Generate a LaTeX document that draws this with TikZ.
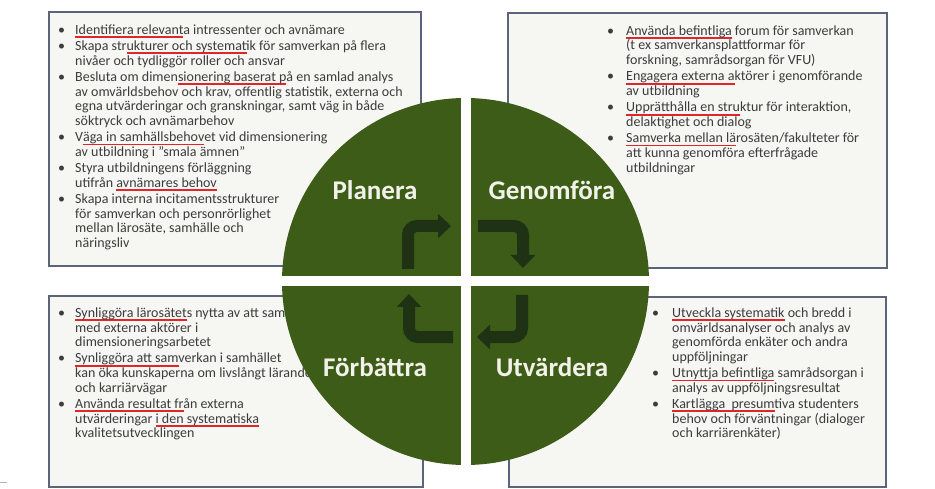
\documentclass[tikz,border=0pt]{standalone}
\usepackage{fontspec}
\setmainfont{Carlito}
\usepackage{array}
\usetikzlibrary{arrows.meta,calc}

\definecolor{leaf}{HTML}{3D5C17}
\definecolor{arrowgreen}{HTML}{1F3314}
\definecolor{frame}{HTML}{5B6478}
\definecolor{panelfill}{HTML}{F6F6F3}
\definecolor{textgray}{HTML}{3C3C3C}
\definecolor{markred}{HTML}{E0262B}
\definecolor{labelwhite}{HTML}{F2F2EA}

% red hand-drawn style underline
\newlength\ulwd
\newcommand\redul[1]{\settowidth\ulwd{#1}\rlap{\textcolor{markred}{\rule[-3.8pt]{\ulwd}{1.8pt}}}#1}

\tikzset{
  panel/.style={draw=frame, fill=panelfill, line width=1.3pt},
  listtext/.style={anchor=base west, inner sep=0pt, text=textgray, font=\fontsize{14}{14.7}\selectfont},
  phase/.style={anchor=base, text=labelwhite, font=\fontsize{27}{30}\selectfont\bfseries},
  turnarrow/.style={line width=12pt, draw=arrowgreen, rounded corners=9pt, -{Triangle[width=24pt,length=13pt]}}
}

\begin{document}
\begin{tikzpicture}[x=1pt, y=-1pt]
    \useasboundingbox (0,0) rectangle (935,489);
    \fill[white] (0,0) rectangle (935,489);

    % the four panels
    \draw[panel] (49,12) rectangle (421,266);
    \draw[panel] (508,13) rectangle (887,268);
    \draw[panel] (49,296) rectangle (423,487);
    \draw[panel] (509,297) rectangle (886,487);
    \draw[frame!50, line width=1pt] (0,482) -- (7,482);

    % panel texts
    \node[listtext] (plantext) at (58,34.3) {\begin{tabular}[t]{@{}p{17pt}@{}l@{}}
        \textbullet & \redul{Identifiera relevant}a intressenter och avnämare\\[1.5pt]
        \textbullet & Skapa str\redul{ukturer och systemat}ik för samverkan på flera\\
          & nivåer och tydliggör roller och ansvar\\[1.5pt]
        \textbullet & Besluta om dimen\redul{sionering baserat p}å en samlad analys\\
          & av omvärldsbehov och krav, offentlig statistik, externa och\\
          & egna utvärderingar och granskningar, samt väg in både\\
          & söktryck och avnämarbehov\\[1.5pt]
        \textbullet & V\redul{äga in samhällsbehov}et vid dimensionering\\
          & av utbildning i ”smala ämnen”\\[1.5pt]
        \textbullet & Styra utbildningens förläggning\\
          & utifrån \redul{avnämares behov}\\[1.5pt]
        \textbullet & Skapa interna incitamentsstrukturer\\
          & för samverkan och personrörlighet\\
          & mellan lärosäte, samhälle och\\
          & näringsliv
      \end{tabular}};

    \node[listtext] (genomtext) at (607,35.3) {\begin{tabular}[t]{@{}p{19pt}@{}l@{}}
        \textbullet & \redul{Använda befintliga} forum för samverkan\\
          & (t ex samverkansplattformar för\\
          & forskning, samrådsorgan för VFU)\\[1.5pt]
        \textbullet & \redul{Engagera externa a}ktörer i genomförande\\
          & av utbildning\\[1.5pt]
        \textbullet & \redul{Upprätthålla en stru}ktur för interaktion,\\
          & delaktighet och dialog\\[1.5pt]
        \textbullet & \redul{Samverka mellan lä}rosäten/fakulteter för\\
          & att kunna genomföra efterfrågade\\
          & utbildningar
      \end{tabular}};

    \node[listtext] (forbtext) at (58,317.3) {\begin{tabular}[t]{@{}p{17pt}@{}l@{}}
        \textbullet & \redul{Synliggöra lärosätet}s nytta av att samverka\\
          & med externa aktörer i\\
          & dimensioneringsarbetet\\[1.5pt]
        \textbullet & \redul{Synliggöra att sam}verkan i samhället\\
          & kan öka kunskaperna om livslångt lärande\\
          & och karriärvägar\\[1.5pt]
        \textbullet & \redul{Använda resultat fr}ån externa\\
          & utvärderingar \redul{i den systematiska}\\
          & kvalitetsutvecklingen
      \end{tabular}};

    \node[listtext] (utvtext) at (652,317.3) {\begin{tabular}[t]{@{}p{20pt}@{}l@{}}
        \textbullet & \redul{Utveckla systematik} och bredd i\\
          & omvärldsanalyser och analys av\\
          & genomförda enkäter och andra\\
          & uppföljningar\\[1.5pt]
        \textbullet & \redul{Utnyttja befintliga} samrådsorgan i\\
          & analys av uppföljningsresultat\\[1.5pt]
        \textbullet & \redul{Kartlägga\ \ presum}tiva studenters\\
          & behov och förväntningar (dialoger\\
          & och karriärenkäter)
      \end{tabular}};

    % the quartered circle
    \coordinate (hub) at (465.5,281.5);
    \begin{scope}
      \clip (hub) circle (183.5pt);
      \foreach \sx/\sy in {-1/-1,1/-1,-1/1,1/1}
        \fill[leaf] ($(hub)+(\sx*5,\sy*5)$) rectangle ($(hub)+(\sx*190,\sy*190)$);
    \end{scope}

    % cycle arrows
    \draw[turnarrow] (408,269) -- (408,226) -- (451,226);
    \draw[turnarrow] (478,226) -- (523,226) -- (523,268);
    \draw[turnarrow] (522,295) -- (522,337) -- (477,337);
    \draw[turnarrow] (453,337) -- (409,337) -- (409,294);

    \node[phase] (planera) at (375,200) {Planera};
    \node[phase] (genomfora) at (552,200) {Genomföra};
    \node[phase] (forbattra) at (375,376.7) {Förbättra};
    \node[phase] (utvardera) at (552,376.7) {Utvärdera};
\end{tikzpicture}
\end{document}
